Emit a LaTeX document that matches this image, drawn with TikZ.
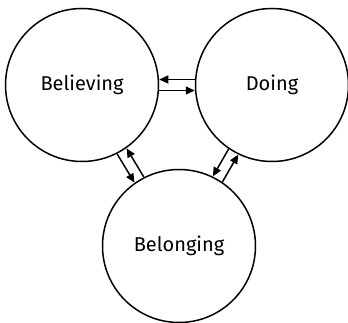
\documentclass[tikz,border=0pt]{standalone}
\usepackage{fontspec}
\setmainfont{Fira Sans}
\usepackage{tikz}
\usetikzlibrary{arrows.meta,calc}

\begin{document}
\begin{tikzpicture}[x=1pt,y=1pt,
  stage/.style={circle,draw,line width=1.5pt,minimum size=153pt,inner sep=0pt,font=\fontsize{20}{24}\selectfont},
  flow/.style={line width=1.5pt,-{Triangle[length=9pt,width=8pt]}}]
  \useasboundingbox (0,0) rectangle (348,323);

  %Shape: Circle
  \node [stage] (believing) at (82,238) {Believing};
  %Shape: Circle
  \node [stage] (doing) at (272,238) {Doing};
  %Shape: Circle
  \node [stage] (belonging) at (179,77) {Belonging};

  %Straight Lines
  \draw [flow,transform canvas={shift={(0pt,5.5pt)}}] (doing) -- (believing);
  \draw [flow,transform canvas={shift={(0pt,-5.5pt)}}] (believing) -- (doing);
  %Straight Lines
  \draw [flow,transform canvas={shift={(-4.7pt,-2.8pt)}}] (believing) -- (belonging);
  \draw [flow,transform canvas={shift={(4.7pt,2.8pt)}}] (belonging) -- (believing);
  %Straight Lines
  \draw [flow,transform canvas={shift={(-4.8pt,2.75pt)}}] (doing) -- (belonging);
  \draw [flow,transform canvas={shift={(4.8pt,-2.75pt)}}] (belonging) -- (doing);
\end{tikzpicture}
\end{document}
